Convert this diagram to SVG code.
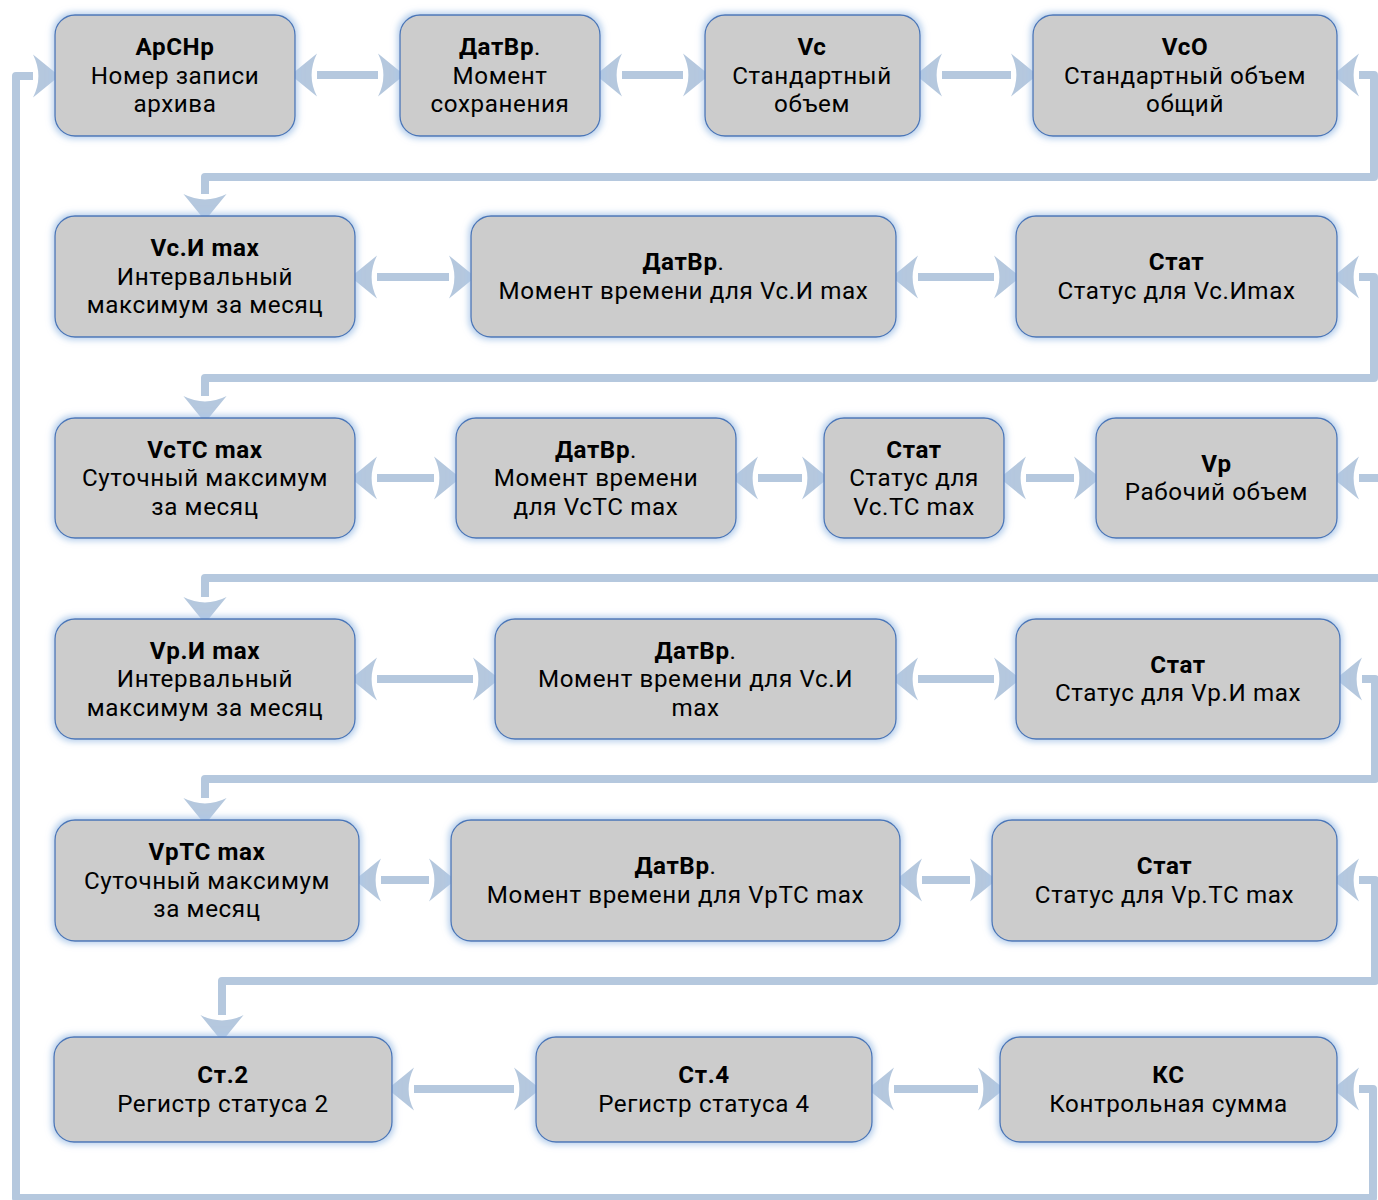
<svg xmlns="http://www.w3.org/2000/svg" width="1378" height="1200" viewBox="0 0 1378 1200">
<style>
.box{fill:#cccccc;stroke:#4a76b8;stroke-width:1.3;filter:url(#glow)}
.t{font-family:Roboto,"Open Sans","DejaVu Sans",sans-serif;font-size:24.2px;letter-spacing:0.6px;fill:#000;text-anchor:middle}
.b{font-weight:bold}
.c{fill:none;stroke:#b5c8de;stroke-width:8;stroke-linejoin:round;marker-start:url(#ah);marker-end:url(#ah)}
</style>
<defs>
<filter id="glow" x="-10%" y="-20%" width="120%" height="140%">
<feMorphology in="SourceAlpha" operator="dilate" radius="2" result="d"/>
<feGaussianBlur in="d" stdDeviation="3" result="bl"/>
<feFlood flood-color="#a9c6e8" flood-opacity="0.85"/>
<feComposite in2="bl" operator="in" result="g"/>
<feMerge><feMergeNode in="g"/><feMergeNode in="SourceGraphic"/></feMerge>
</filter>
<marker id="ah" markerUnits="userSpaceOnUse" orient="auto-start-reverse" refX="0" refY="0" markerWidth="60" markerHeight="60" viewBox="-5 -25 40 50" overflow="visible">
<path d="M22 0 L0 -18 Q9 0 0 18 Z" fill="#b5c8de"/>
</marker>
</defs>
<rect width="1378" height="1200" fill="#ffffff"/>
<g id="connectors">
<path class="c" d="M317 75 H378"/>
<path class="c" d="M622 75 H683"/>
<path class="c" d="M942 75 H1011"/>
<path class="c" d="M1359 75 H1374 V177 H205 V194"/>
<path class="c" d="M377 277 H449"/>
<path class="c" d="M918 277 H994"/>
<path class="c" d="M1359 277 H1374 V378 H205 V396"/>
<path class="c" d="M377 478 H434"/>
<path class="c" d="M758 478 H802"/>
<path class="c" d="M1026 478 H1074"/>
<path class="c" d="M1359 478 H1384 V578 H205 V597"/>
<path class="c" d="M377 679 H473"/>
<path class="c" d="M918 679 H994"/>
<path class="c" d="M1362 679 H1375 V779 H205 V798"/>
<path class="c" d="M381 880 H429"/>
<path class="c" d="M922 880 H970"/>
<path class="c" d="M1359 880 H1375 V981 H222 V1015"/>
<path class="c" d="M414 1089 H514"/>
<path class="c" d="M894 1089 H978"/>
<path class="c" d="M1359 1089 H1373 V1198 H16 V76 H33"/>
</g>
<g id="n1"><rect class="box" x="55" y="15" width="240" height="121" rx="20"/>
<text class="t" x="175" y="55"><tspan class="b">АрСНр</tspan><tspan x="175" dy="28.5">Номер записи</tspan><tspan x="175" dy="28.5">архива</tspan></text></g>
<g id="n2"><rect class="box" x="400" y="15" width="200" height="121" rx="20"/>
<text class="t" x="500" y="55"><tspan class="b">ДатВр</tspan>.<tspan x="500" dy="28.5">Момент</tspan><tspan x="500" dy="28.5">сохранения</tspan></text></g>
<g id="n3"><rect class="box" x="705" y="15" width="215" height="121" rx="20"/>
<text class="t" x="812" y="55"><tspan class="b">Vc</tspan><tspan x="812" dy="28.5">Стандартный</tspan><tspan x="812" dy="28.5">объем</tspan></text></g>
<g id="n4"><rect class="box" x="1033" y="15" width="304" height="121" rx="20"/>
<text class="t" x="1185" y="55"><tspan class="b">VcO</tspan><tspan x="1185" dy="28.5">Стандартный объем</tspan><tspan x="1185" dy="28.5">общий</tspan></text></g>
<g id="n5"><rect class="box" x="55" y="216" width="300" height="121" rx="20"/>
<text class="t" x="205" y="256"><tspan class="b">Vc.И max</tspan><tspan x="205" dy="28.5">Интервальный</tspan><tspan x="205" dy="28.5">максимум за месяц</tspan></text></g>
<g id="n6"><rect class="box" x="471" y="216" width="425" height="121" rx="20"/>
<text class="t" x="683.5" y="270"><tspan class="b">ДатВр</tspan>.<tspan x="683.5" dy="28.5">Момент времени для Vc.И max</tspan></text></g>
<g id="n7"><rect class="box" x="1016" y="216" width="321" height="121" rx="20"/>
<text class="t" x="1176.5" y="270"><tspan class="b">Стат</tspan><tspan x="1176.5" dy="28.5">Статус для Vc.Иmax</tspan></text></g>
<g id="n8"><rect class="box" x="55" y="418" width="300" height="120" rx="20"/>
<text class="t" x="205" y="457.5"><tspan class="b">VcTC max</tspan><tspan x="205" dy="28.5">Суточный максимум</tspan><tspan x="205" dy="28.5">за месяц</tspan></text></g>
<g id="n9"><rect class="box" x="456" y="418" width="280" height="120" rx="20"/>
<text class="t" x="596" y="457.5"><tspan class="b">ДатВр</tspan>.<tspan x="596" dy="28.5">Момент времени</tspan><tspan x="596" dy="28.5">для VcTC max</tspan></text></g>
<g id="n10"><rect class="box" x="824" y="418" width="180" height="120" rx="20"/>
<text class="t" x="914" y="457.5"><tspan class="b">Стат</tspan><tspan x="914" dy="28.5">Статус для</tspan><tspan x="914" dy="28.5">Vc.TC max</tspan></text></g>
<g id="n11"><rect class="box" x="1096" y="418" width="241" height="120" rx="20"/>
<text class="t" x="1216.5" y="471.5"><tspan class="b">Vp</tspan><tspan x="1216.5" dy="28.5">Рабочий объем</tspan></text></g>
<g id="n12"><rect class="box" x="55" y="619" width="300" height="120" rx="20"/>
<text class="t" x="205" y="658.5"><tspan class="b">Vp.И max</tspan><tspan x="205" dy="28.5">Интервальный</tspan><tspan x="205" dy="28.5">максимум за месяц</tspan></text></g>
<g id="n13"><rect class="box" x="495" y="619" width="401" height="120" rx="20"/>
<text class="t" x="695.5" y="658.5"><tspan class="b">ДатВр</tspan>.<tspan x="695.5" dy="28.5">Момент времени для Vc.И</tspan><tspan x="695.5" dy="28.5">max</tspan></text></g>
<g id="n14"><rect class="box" x="1016" y="619" width="324" height="120" rx="20"/>
<text class="t" x="1178" y="672.5"><tspan class="b">Стат</tspan><tspan x="1178" dy="28.5">Статус для Vp.И max</tspan></text></g>
<g id="n15"><rect class="box" x="55" y="820" width="304" height="121" rx="20"/>
<text class="t" x="207" y="860"><tspan class="b">VpTC max</tspan><tspan x="207" dy="28.5">Суточный максимум</tspan><tspan x="207" dy="28.5">за месяц</tspan></text></g>
<g id="n16"><rect class="box" x="451" y="820" width="449" height="121" rx="20"/>
<text class="t" x="675.5" y="874"><tspan class="b">ДатВр</tspan>.<tspan x="675.5" dy="28.5">Момент времени для VpTC max</tspan></text></g>
<g id="n17"><rect class="box" x="992" y="820" width="345" height="121" rx="20"/>
<text class="t" x="1164.5" y="874"><tspan class="b">Стат</tspan><tspan x="1164.5" dy="28.5">Статус для Vp.TC max</tspan></text></g>
<g id="n18"><rect class="box" x="54" y="1037" width="338" height="105" rx="20"/>
<text class="t" x="223" y="1083"><tspan class="b">Ст.2</tspan><tspan x="223" dy="28.5">Регистр статуса 2</tspan></text></g>
<g id="n19"><rect class="box" x="536" y="1037" width="336" height="105" rx="20"/>
<text class="t" x="704" y="1083"><tspan class="b">Ст.4</tspan><tspan x="704" dy="28.5">Регистр статуса 4</tspan></text></g>
<g id="n20"><rect class="box" x="1000" y="1037" width="337" height="105" rx="20"/>
<text class="t" x="1168.5" y="1083"><tspan class="b">КС</tspan><tspan x="1168.5" dy="28.5">Контрольная сумма</tspan></text></g>
</svg>
